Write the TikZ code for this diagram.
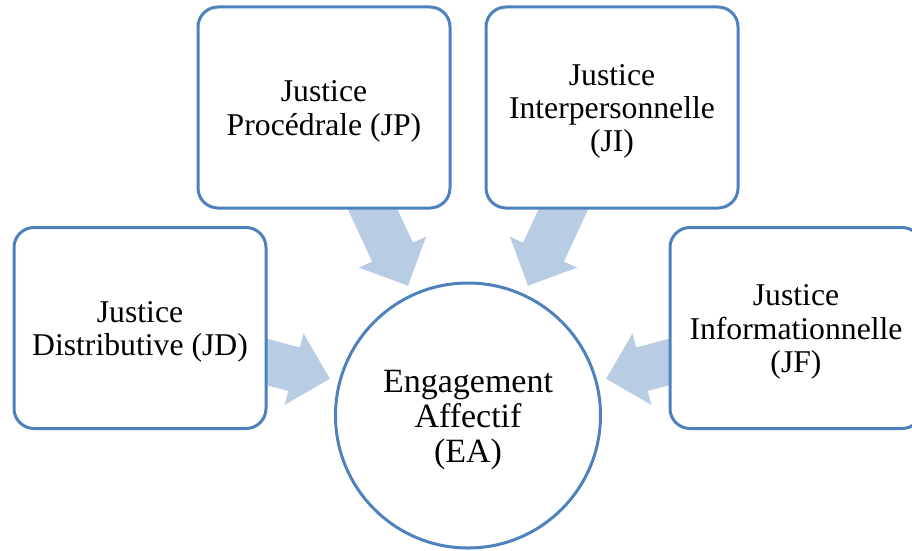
\documentclass[tikz,border=0pt]{standalone}
\usepackage{fontspec}
\setmainfont{Liberation Serif}
\usetikzlibrary{calc}
\definecolor{framecol}{HTML}{4F81BD}
\definecolor{arrowcol}{HTML}{B8CCE4}
\pgfdeclarelayer{background}
\pgfsetlayers{background,main}
\begin{document}
\begin{tikzpicture}[x=1pt,y=1pt,
  jbox/.style={draw=framecol, line width=3pt, fill=white, rounded corners=20pt,
    minimum width=252pt, minimum height=201pt, inner sep=0pt},
  jtext/.style={align=center, inner sep=0pt, yshift=-4pt,
    font=\fontsize{31.7}{33.3}\selectfont},
  eacircle/.style={draw=framecol, line width=3pt, fill=white, circle,
    minimum size=265pt, inner sep=0pt},
  eatext/.style={align=center, inner sep=0pt, yshift=-4pt,
    font=\fontsize{34}{35}\selectfont},
  blockarrow/.style={fill=arrowcol, draw=none}]
\useasboundingbox (0,0) rectangle (912,550);

% the four justice boxes and the central circle
\node[jbox] (jp) at (324,442.5) {};
\node[jbox] (ji) at (612,442.5) {};
\node[jbox] (jd) at (140,222) {};
\node[jbox] (jf) at (796,222) {};
\node[eacircle] (ea) at (468,134.5) {};

% their texts
\node[jtext] (jpt) at (jp.center) {Justice\\Procédrale (JP)};
\node[jtext] (jit) at (ji.center) {Justice\\Interpersonnelle\\(JI)};
\node[jtext] (jdt) at (jd.center) {Justice\\Distributive (JD)};
\node[jtext] (jft) at (jf.center) {Justice\\Informationnelle\\(JF)};
\node[eatext] (eat) at (ea.center) {Engagement\\Affectif\\(EA)};

% block arrows pointing from each box toward the circle (behind the boxes)
\begin{pgfonlayer}{background}
\foreach \src/\ang in {jd/165.1, jp/114.8, ji/65.2, jf/14.9}{
  \fill[blockarrow, shift={(ea.center)}, rotate=\ang]
    (143,0) -- (180,37) -- (180,22.5) -- (250,22.5) -- (250,-22.5)
    -- (180,-22.5) -- (180,-37) -- cycle;
}
\end{pgfonlayer}
\end{tikzpicture}
\end{document}
